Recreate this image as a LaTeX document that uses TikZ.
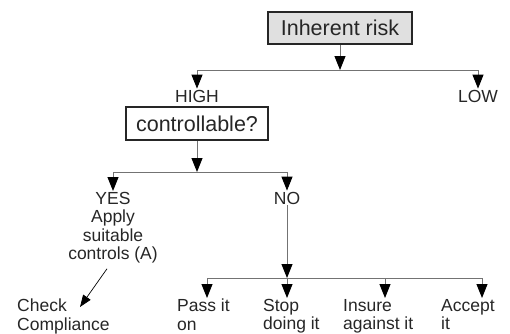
\documentclass[tikz,border=0pt]{standalone}
\usepackage{fontspec}
\setmainfont{Liberation Sans}
\usetikzlibrary{arrows.meta}
\tikzset{
  riskbox/.style={draw=black!85,line width=2pt,minimum width=144pt,minimum height=32pt,inner sep=0pt,font=\fontsize{21.5}{24}\selectfont,text=black!85},
  lbl/.style={inner sep=1pt,font=\fontsize{17.5}{18.5}\selectfont,text=black!85},
  bar/.style={draw=black!55,line width=1pt},
  down/.style={bar,-{Stealth[inset=0pt,length=14pt,width=11pt,color=black]}},
  pointer/.style={draw=black,line width=0.7pt,-{Stealth[inset=0pt,length=12pt,width=9pt]}}
}
\begin{document}
\begin{tikzpicture}[x=1pt,y=-1pt]
      \useasboundingbox (0,0) rectangle (510,333);
      \node[riskbox,fill=black!12] (risk) at (340,28) {Inherent risk};
      \coordinate (r0) at (340,70);
      \coordinate (rl) at (197,70);
      \coordinate (rr) at (478,70);
      \node[lbl] (high) at (197,96) {HIGH};
      \node[lbl] (low) at (478,96) {LOW};
      \draw[down] (risk) -- (r0);
      \draw[bar] (rl) -- (rr);
      \draw[down] (rl) -- (high);
      \draw[down] (rr) -- (low);
      \node[riskbox,fill=white,minimum width=142pt,minimum height=33pt] (ctrl) at (197,123.5) {controllable?};
      \coordinate (c0) at (197,172);
      \coordinate (cl) at (113,172);
      \coordinate (cr) at (287,172);
      \node[lbl,align=center,anchor=north] (yes) at (113,191) {YES\\Apply\\suitable\\controls (A)};
      \node[lbl] (no) at (287,198) {NO};
      \draw[down] (ctrl) -- (c0);
      \draw[bar] (cl) -- (cr);
      \draw[down] (cl) -- (yes);
      \draw[down] (cr) -- (no);
      \node[lbl,align=left,anchor=north west] (check) at (16,298) {Check\\Compliance};
      \draw[pointer] ([shift={(-6pt,-4pt)}]yes.south) -- ([shift={(64pt,-9pt)}]check.north west);
      \node[lbl,align=left,anchor=north west] (pass) at (176,298) {Pass it\\on};
      \node[lbl,align=left,anchor=north west] (stop) at (262,298) {Stop\\doing it};
      \node[lbl,align=left,anchor=north west] (insure) at (342,298) {Insure\\against it};
      \node[lbl,align=left,anchor=north west] (accept) at (440,298) {Accept\\it};
      \coordinate (n1) at (207,278);
      \coordinate (n2) at (287,278);
      \coordinate (n3) at (385,278);
      \coordinate (n4) at (482,278);
      \draw[down] (no) -- (n2);
      \draw[bar] (n1) -- (n4);
      \draw[down] (n1) -- (n1 |- pass.north);
      \draw[down] (n2) -- (n2 |- stop.north);
      \draw[down] (n3) -- (n3 |- insure.north);
      \draw[down] (n4) -- (n4 |- accept.north);
    \end{tikzpicture}
\end{document}
